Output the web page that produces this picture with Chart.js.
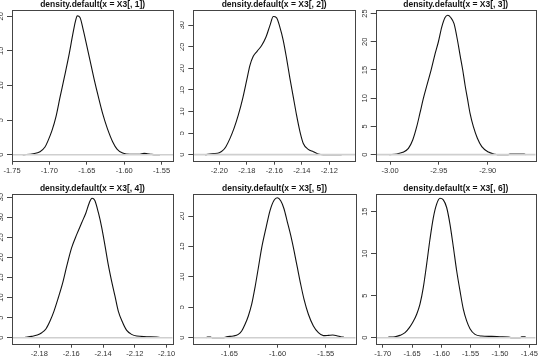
<!DOCTYPE html>
<html>
<head>
<meta charset="utf-8">
<script src="https://cdn.jsdelivr.net/npm/chart.js@4.4.1/dist/chart.umd.min.js"></script>
<style>
  html, body { margin: 0; padding: 0; background: #fff; }
  #wrap { position: relative; width: 540px; height: 362px; overflow: hidden; }
  #wrap canvas { position: absolute; }
</style>
</head>
<body>
<div id="wrap">
  <canvas id="c1" width="180" height="181" style="left:0;top:0"></canvas>
  <canvas id="c2" width="180" height="181" style="left:180px;top:0"></canvas>
  <canvas id="c3" width="180" height="181" style="left:360px;top:0"></canvas>
  <canvas id="c4" width="180" height="181" style="left:0;top:181px"></canvas>
  <canvas id="c5" width="180" height="181" style="left:180px;top:181px"></canvas>
  <canvas id="c6" width="180" height="181" style="left:360px;top:181px"></canvas>
</div>
<script>
// density estimates
const titles = ['density.default(x = X3[, 1])', 'density.default(x = X3[, 2])', 'density.default(x = X3[, 3])',
                'density.default(x = X3[, 4])', 'density.default(x = X3[, 5])', 'density.default(x = X3[, 6])'];

const x1 = [-1.7357, -1.7215, -1.7126, -1.7059, -1.7015, -1.6965, -1.6912, -1.6860, -1.6800, -1.6740, -1.6689, -1.6654, -1.6627, -1.6591, -1.6547, -1.6502, -1.6458, -1.6404, -1.6346, -1.6289, -1.6226, -1.6155, -1.6093, -1.6021, -1.5923, -1.5790, -1.5736, -1.5692, -1.5634, -1.5522];
const d1 = [0, 0.14, 0.43, 1.1, 2.1, 3.5, 5.5, 8.2, 11.2, 14.3, 17.3, 19.2, 20.05, 19.81, 17.98, 15.82, 13.65, 11.0, 8.37, 5.96, 3.80, 1.88, 0.77, 0.24, 0.05, 0.05, 0.19, 0.14, 0.05, 0];

const x2 = [-2.2104, -2.2044, -2.2000, -2.1976, -2.1952, -2.1922, -2.1893, -2.1862, -2.1830, -2.1801, -2.1777, -2.1753, -2.1724, -2.1692, -2.1661, -2.1632, -2.1607, -2.1583, -2.1559, -2.1535, -2.1510, -2.1486, -2.1462, -2.1438, -2.1413, -2.1389, -2.1353, -2.1316, -2.1280, -2.1244, -2.1110];
const d2 = [0, 0.23, 0.46, 0.92, 1.85, 3.77, 6.08, 9.15, 13.0, 17.2, 20.7, 22.8, 24.0, 25.3, 27.2, 29.9, 32.0, 31.7, 29.5, 26.5, 22.2, 17.6, 13.4, 9.15, 5.3, 2.6, 1.23, 0.69, 0.15, 0, 0];

const x3 = [-3.0007, -2.9932, -2.9870, -2.9812, -2.9768, -2.9727, -2.9693, -2.9659, -2.9618, -2.9580, -2.9543, -2.9505, -2.9471, -2.9437, -2.9410, -2.9379, -2.9345, -2.9307, -2.9283, -2.9256, -2.9232, -2.9208, -2.9181, -2.9147, -2.9106, -2.9061, -2.8993, -2.8925, -2.8901, -2.8788, -2.8771, -2.8625, -2.8611];
const d3 = [0, 0.12, 0.41, 1.12, 2.59, 4.95, 7.43, 9.96, 12.6, 14.98, 17.6, 20.0, 22.6, 24.3, 24.7, 24.3, 23.2, 20.0, 17.6, 15.0, 12.3, 9.96, 7.3, 4.95, 2.9, 1.42, 0.47, 0.06, 0, 0, 0.12, 0.12, 0];

const x4 = [-2.1890, -2.1848, -2.1813, -2.1785, -2.1758, -2.1733, -2.1708, -2.1681, -2.1653, -2.1628, -2.1597, -2.1565, -2.1534, -2.1507, -2.1486, -2.1469, -2.1452, -2.1429, -2.1408, -2.1387, -2.1367, -2.1346, -2.1325, -2.1304, -2.1276, -2.1251, -2.1220, -2.1188, -2.1126, -2.1063, -2.1046];
const d4 = [0.1, 0.33, 0.66, 1.24, 2.24, 4.15, 6.63, 9.95, 13.7, 17.8, 22.4, 25.7, 28.6, 31.1, 33.6, 34.7, 34.2, 31.1, 27.4, 22.8, 18.2, 14.1, 10.4, 6.63, 3.73, 1.82, 0.83, 0.41, 0.25, 0.17, 0.08];

const x5 = [-1.6742, -1.6728, -1.6694, -1.6680, -1.6562, -1.6528, -1.6458, -1.6407, -1.6372, -1.6337, -1.6303, -1.6268, -1.6234, -1.6199, -1.6164, -1.6119, -1.6078, -1.6036, -1.6002, -1.5967, -1.5933, -1.5898, -1.5863, -1.5829, -1.5794, -1.5760, -1.5725, -1.5680, -1.5628, -1.5576, -1.5524, -1.5472, -1.5427, -1.5386, -1.5344, -1.5310];
const d5 = [0, 0.11, 0.11, 0, 0, 0.16, 0.27, 0.55, 1.1, 2.2, 3.57, 5.5, 8.24, 11.5, 14.8, 18.1, 20.9, 22.6, 23.0, 22.5, 21.2, 19.0, 16.8, 14.3, 11.5, 8.8, 6.3, 3.85, 1.92, 0.82, 0.33, 0.38, 0.44, 0.33, 0.16, 0.05];

const x6 = [-1.6903, -1.6790, -1.6705, -1.6619, -1.6545, -1.6489, -1.6420, -1.6364, -1.6307, -1.6250, -1.6193, -1.6136, -1.6080, -1.6023, -1.5966, -1.5909, -1.5852, -1.5795, -1.5739, -1.5682, -1.5625, -1.5568, -1.5511, -1.5426, -1.5312, -1.5142, -1.5000, -1.4858, -1.4801, -1.4659, -1.4631, -1.4574, -1.4551];
const d6 = [0.08, 0.12, 0.28, 0.6, 1.2, 1.8, 2.8, 4.0, 6.0, 8.76, 11.75, 14.3, 15.9, 16.6, 16.4, 15.5, 13.5, 10.8, 8.0, 5.6, 3.4, 2.0, 1.08, 0.4, 0.2, 0.16, 0.12, 0.08, 0, 0, 0.1, 0.1, 0];

// tick labels
const xt1 = [-1.75, -1.70, -1.65, -1.60, -1.55];
const yt1 = [0, 5, 10, 15, 20];
const xt2 = [-2.20, -2.18, -2.16, -2.14, -2.12];
const yt2 = [0, 5, 10, 15, 20, 25, 30];
const xt3 = [-3.00, -2.95, -2.90];
const yt3 = [0, 5, 10, 15, 20, 25];
const xt4 = [-2.18, -2.16, -2.14, -2.12, -2.10];
const yt4 = [0, 5, 10, 15, 20, 25, 30, 35];
const xt5 = [-1.65, -1.60, -1.55];
const yt5 = [0, 5, 10, 15, 20];
const xt6 = [-1.70, -1.65, -1.60, -1.55, -1.50, -1.45];
const yt6 = [0, 5, 10, 15];

// plot region limits (R pads the data range by 4%)
const xlims = [[-1.75, -1.5344], [-2.2189, -2.1013], [-3.0147, -2.8509], [-2.1972, -2.0962], [-1.6874, -1.5189], [-1.7114, -1.4392]];
const ylims = [[-0.87, 20.87], [-1.40, 33.47], [-1.07, 25.59], [-1.49, 35.83], [-0.99, 23.67], [-0.71, 17.14]];

const xs = [x1, x2, x3, x4, x5, x6];
const ds = [d1, d2, d3, d4, d5, d6];
const xts = [xt1, xt2, xt3, xt4, xt5, xt6];
const yts = [yt1, yt2, yt3, yt4, yt5, yt6];

// layout of each canvas: y axis width, right pad
const yAxisW = [12, 13.3, 15.7, 12, 13.3, 16];
const padR = [6.7, 5, 4.3, 7.3, 4.3, 4.3];

const FONT = "'Liberation Sans', Arial, sans-serif";

const boxPlugin = {
    id: 'box',
    afterDatasetsDraw(chart) {
        const a = chart.chartArea;
        const ctx = chart.ctx;
        ctx.save();
        ctx.strokeStyle = '#444';
        ctx.lineWidth = 1;
        ctx.strokeRect(Math.round(a.left) + 0.5, Math.round(a.top) + 0.5,
                       Math.round(a.right) - Math.round(a.left), Math.round(a.bottom) - Math.round(a.top));
        ctx.restore();
    }
};

function makePanel(i) {
    const row = i < 3 ? 0 : 1;
    const xl = xlims[i], yl = ylims[i];
    const curve = xs[i].map((x, k) => ({ x: x, y: ds[i][k] }));
    new Chart(document.getElementById('c' + (i + 1)), {
        type: 'line',
        data: {
            datasets: [{
                data: [{ x: xl[0], y: 0 }, { x: xl[1], y: 0 }],
                borderColor: '#cfcfcf',
                borderWidth: 1.6,
                pointRadius: 0,
                order: 0
            }, {
                data: curve,
                borderColor: '#111',
                borderWidth: 1.1,
                pointRadius: 0,
                cubicInterpolationMode: 'monotone',
                order: 1
            }]
        },
        options: {
            responsive: false,
            animation: false,
            devicePixelRatio: 1,
            layout: { padding: { left: 0, right: padR[i], top: row ? 2.5 : 0, bottom: 0 } },
            plugins: {
                legend: { display: false },
                tooltip: { enabled: false },
                title: {
                    display: true,
                    fullSize: false,
                    text: titles[i],
                    color: '#111',
                    font: { family: FONT, size: 8.5, weight: 'bold', lineHeight: 1.2 },
                    padding: { top: 0, bottom: 0 }
                }
            },
            scales: {
                x: {
                    type: 'linear',
                    min: xl[0], max: xl[1],
                    afterBuildTicks: s => { s.ticks = xts[i].map(v => ({ value: v })); },
                    afterFit: s => { s.height = row ? 18.3 : 20.3; },
                    grid: { drawOnChartArea: false, drawTicks: true, tickLength: 4, color: '#444' },
                    border: { display: false },
                    ticks: {
                        color: '#333', padding: 2, maxRotation: 0, autoSkip: false,
                        font: { family: FONT, size: 7.5 },
                        callback: v => v.toFixed(2)
                    }
                },
                y: {
                    type: 'linear',
                    min: yl[0], max: yl[1],
                    afterBuildTicks: s => { s.ticks = yts[i].map(v => ({ value: v })); },
                    afterFit: s => { s.width = yAxisW[i]; },
                    grid: { drawOnChartArea: false, drawTicks: true, tickLength: 5, color: '#444' },
                    border: { display: false },
                    ticks: {
                        color: '#333', padding: 2, minRotation: 90, maxRotation: 90, crossAlign: 'center',
                        autoSkip: false,
                        font: { family: FONT, size: 7.5 },
                        callback: v => String(v)
                    }
                }
            }
        },
        plugins: [boxPlugin]
    });
}

for (let i = 0; i < 6; i++) makePanel(i);
</script>
</body>
</html>
